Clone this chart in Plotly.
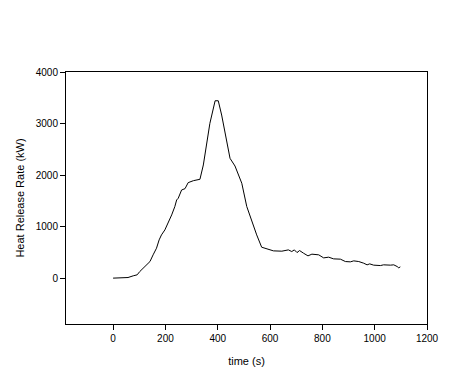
import plotly.graph_objects as go

time_s = [0, 30, 57, 77, 92, 102, 115, 128, 141, 153, 166, 176, 185, 198, 211, 224, 236, 243, 249,
          262, 275, 287, 307, 332, 345, 358, 370, 390, 402, 415, 428, 447, 466, 483, 492, 511, 536,
          549, 568, 594, 613, 645, 658, 670, 683, 693, 703, 713, 728, 745, 760, 786, 805, 824, 843,
          869, 888, 907, 920, 939, 958, 971, 981, 996, 1022, 1034, 1060, 1073, 1086, 1092, 1098]
hrr_kw = [0, 5, 12, 45, 64, 128, 194, 258, 322, 452, 581, 742, 839, 936, 1066, 1227, 1388, 1517, 1550,
          1711, 1736, 1853, 1891, 1918, 2196, 2600, 3004, 3442, 3442, 3165, 2841, 2325, 2176, 1969, 1841, 1390, 1000,
          839, 600, 562, 529, 523, 535, 548, 516, 548, 496, 535, 484, 432, 465, 452, 393, 407, 374,
          368, 322, 316, 335, 322, 290, 258, 277, 252, 244, 258, 252, 258, 225, 200, 219]

x_ticks = [0, 200, 400, 600, 800, 1000, 1200]
y_ticks = [0, 1000, 2000, 3000, 4000]

fig = go.Figure(go.Scatter(x=time_s, y=hrr_kw, mode="lines",
                           line=dict(color="black", width=1), showlegend=False))

font = dict(family="Liberation Sans, Arial, sans-serif", size=10, color="black")
fig.update_layout(
    width=452, height=382,
    margin=dict(l=58, r=33, t=64, b=66),
    paper_bgcolor="white", plot_bgcolor="white",
    font=font,
    xaxis=dict(range=[-180, 1200], tickvals=x_ticks, ticks="outside", ticklen=5,
               tickcolor="black", showline=True, linecolor="black", linewidth=1, mirror=True,
               showgrid=False, zeroline=False,
               title=dict(text="time (s)", font=dict(size=11, color="black"), standoff=14)),
    yaxis=dict(range=[-890, 4000], tickvals=y_ticks, ticks="outside", ticklen=5,
               tickcolor="black", showline=True, linecolor="black", linewidth=1, mirror=True,
               showgrid=False, zeroline=False,
               title=dict(text="Heat Release Rate (kW)", font=dict(size=11, color="black"), standoff=8)),
)
fig.write_html("out.html")
